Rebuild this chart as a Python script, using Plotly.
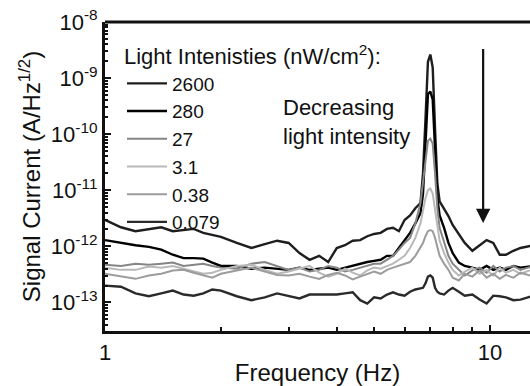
import numpy as np
import plotly.graph_objects as go

# Frequency grid (Hz)
FREQ_HZ = [1.0, 1.1, 1.2, 1.3, 1.4, 1.5, 1.6, 1.7, 1.8, 1.9,
           2.0, 2.2, 2.4, 2.6, 2.8,
           3.0, 3.2, 3.4, 3.6, 3.8,
           4.0, 4.2, 4.4, 4.6, 4.8,
           5.0, 5.2, 5.4, 5.6, 5.8,
           6.0, 6.2, 6.4, 6.6, 6.7, 6.8, 6.9,
           7.0, 7.1, 7.2, 7.3, 7.4, 7.6, 7.8,
           8.0, 8.3, 8.6,
           9.0, 9.4, 9.8,
           10.2, 10.6, 11.0, 11.5, 12.0, 13.0]

# Signal current, log10(A/Hz^1/2), one list per light intensity (nW/cm^2)
LOG_2600 = [-11.53, -11.66, -11.73, -11.69, -11.66, -11.73, -11.71, -11.69, -11.76, -11.80,
            -11.83, -11.94, -12.03, -11.96, -11.90,
            -11.94, -12.12, -12.24, -12.17, -12.28,
            -12.03, -11.98, -11.90, -11.89, -11.82,
            -11.78, -11.76, -11.69, -11.67, -11.73,
            -11.53, -11.45, -11.32, -11.23, -10.70, -9.73, -8.71,
            -8.58, -8.81, -9.91, -10.88, -11.20, -11.32, -11.46,
            -11.62, -11.78, -11.94,
            -12.08, -11.99, -11.89,
            -11.94, -12.15, -12.15, -12.08, -12.03, -11.98]

LOG_280 = [-11.89, -11.94, -11.98, -12.01, -12.06, -12.15, -12.21, -12.21, -12.22, -12.29,
           -12.35, -12.35, -12.40, -12.38, -12.40,
           -12.42, -12.38, -12.42, -12.40, -12.38,
           -12.42, -12.38, -12.35, -12.31, -12.28,
           -12.26, -12.24, -12.17, -12.17, -12.03,
           -11.90, -11.76, -11.59, -11.41, -11.06, -10.08, -9.29,
           -9.24, -9.38, -10.26, -11.14, -11.45, -11.67, -11.94,
           -12.12, -12.29, -12.35,
           -12.38, -12.42, -12.35,
           -12.42, -12.38, -12.42, -12.35, -12.38, -12.35]

LOG_27 = [-12.33, -12.35, -12.31, -12.33, -12.31, -12.29, -12.35, -12.33, -12.31, -12.35,
          -12.38, -12.40, -12.31, -12.28, -12.35,
          -12.42, -12.38, -12.45, -12.42, -12.35,
          -12.38, -12.45, -12.42, -12.38, -12.35,
          -12.31, -12.31, -12.24, -12.17, -12.06,
          -11.94, -11.85, -11.59, -11.23, -10.88, -10.44, -10.12,
          -10.08, -10.17, -10.70, -11.32, -11.67, -11.94, -12.17,
          -12.31, -12.42, -12.52,
          -12.43, -12.38, -12.47,
          -12.35, -12.45, -12.38, -12.35, -12.42, -12.35]

LOG_3_1 = [-12.38, -12.42, -12.42, -12.36, -12.38, -12.35, -12.40, -12.45, -12.49, -12.47,
           -12.42, -12.35, -12.33, -12.42, -12.49,
           -12.45, -12.40, -12.35, -12.47, -12.54,
           -12.49, -12.40, -12.47, -12.52, -12.43,
           -12.38, -12.40, -12.35, -12.31, -12.24,
           -12.17, -12.03, -11.85, -11.59, -11.36, -11.14, -11.00,
           -10.97, -11.06, -11.32, -11.64, -11.90, -12.12, -12.29,
           -12.42, -12.52, -12.45,
           -12.38, -12.49, -12.42,
           -12.52, -12.38, -12.47, -12.42, -12.49, -12.40]

LOG_0_38 = [-12.49, -12.54, -12.58, -12.52, -12.49, -12.43, -12.42, -12.47, -12.52, -12.56,
            -12.49, -12.43, -12.38, -12.45, -12.51,
            -12.52, -12.49, -12.54, -12.58, -12.51,
            -12.47, -12.52, -12.59, -12.54, -12.49,
            -12.45, -12.49, -12.42, -12.38, -12.35,
            -12.31, -12.28, -12.17, -12.03, -11.94, -11.82, -11.73,
            -11.71, -11.73, -11.85, -12.03, -12.17, -12.31, -12.42,
            -12.56, -12.61, -12.49,
            -12.54, -12.43, -12.56,
            -12.49, -12.58, -12.51, -12.56, -12.47, -12.54]

LOG_0_079 = [-12.70, -12.72, -12.84, -12.89, -12.84, -12.79, -12.86, -12.88, -12.84, -12.77,
             -12.79, -12.89, -12.96, -12.91, -12.84,
             -12.89, -12.93, -12.86, -12.86, -12.86,
             -12.86, -12.84, -12.82, -12.96, -13.02,
             -12.91, -12.93, -12.86, -12.82, -12.86,
             -12.88, -12.81, -12.77, -12.75, -12.74, -12.66, -12.54,
             -12.52, -12.56, -12.74, -12.81, -12.84, -12.86, -12.79,
             -12.74, -12.81, -12.88,
             -12.86, -12.95, -13.02,
             -12.88, -12.89, -12.91, -12.96, -12.95, -12.88]

SERIES_NAMES = ["2600", "280", "27", "3.1", "0.38", "0.079"]
SERIES_LOGS = [LOG_2600, LOG_280, LOG_27, LOG_3_1, LOG_0_38, LOG_0_079]
SERIES_COLORS = ["#1e1e1e", "#000000", "#858585", "#b8b8b8", "#9c9c9c", "#2a2a2a"]
SERIES_WIDTHS = [2.4, 2.4, 2.0, 2.0, 2.0, 2.4]

Y_TICK_EXPONENTS = [-13, -12, -11, -10, -9, -8]
X_TICK_VALUES = [1, 10]
ARROW_FREQ = 9.6
ARROW_TOP = 3.5e-9
ARROW_BOTTOM = 2.6e-12

FONT = "Liberation Sans, Arial, sans-serif"

fig = go.Figure()
for name, logs, color, w in zip(SERIES_NAMES, SERIES_LOGS, SERIES_COLORS, SERIES_WIDTHS):
    fig.add_trace(go.Scatter(
        x=FREQ_HZ, y=np.power(10.0, np.array(logs)), mode="lines", name=name,
        line=dict(color=color, width=w),
    ))

minor_x = [2, 3, 4, 5, 6, 7, 8, 9, 20]
minor_y = [m * 10.0 ** e for e in range(-14, -8) for m in range(2, 10)]

fig.update_layout(
    width=530, height=386,
    margin=dict(l=105, r=0, t=22, b=52),
    paper_bgcolor="white", plot_bgcolor="white",
    font=dict(family=FONT, size=21, color="#111111"),
    showlegend=True,
    legend=dict(
        x=0.04, y=0.955, xanchor="left", yanchor="top",
        bgcolor="rgba(0,0,0,0)", borderwidth=0,
        font=dict(size=19, family=FONT, color="#111111"),
        title=dict(text="Light Intenisties (nW/cm<sup>2</sup>):", font=dict(size=22, family=FONT)),
        itemwidth=40, tracegroupgap=0,
    ),
    xaxis=dict(
        type="log", range=[0, 1.104],
        tickvals=X_TICK_VALUES, ticktext=[str(v) for v in X_TICK_VALUES],
        ticks="inside", ticklen=6, tickwidth=2, tickcolor="#111",
        minor=dict(tickvals=minor_x, ticks="inside", ticklen=4, tickwidth=1.5, tickcolor="#111"),
        showline=True, linecolor="#111", linewidth=3, mirror=False,
        showgrid=False, zeroline=False,
        tickfont=dict(size=22, family=FONT),
        title=dict(text="Frequency (Hz)", font=dict(size=24, family=FONT), standoff=4),
    ),
    yaxis=dict(
        type="log", range=[-13.51, -8.0],
        tickvals=[10.0 ** e for e in Y_TICK_EXPONENTS],
        ticktext=["10<sup>%d</sup>" % e for e in Y_TICK_EXPONENTS],
        ticks="inside", ticklen=6, tickwidth=2, tickcolor="#111",
        minor=dict(tickvals=minor_y, ticks="inside", ticklen=3, tickwidth=1.5, tickcolor="#111"),
        showline=True, linecolor="#111", linewidth=3, mirror=False,
        showgrid=False, zeroline=False,
        tickfont=dict(size=22, family=FONT),
        title=dict(text="Signal Current (A/Hz<sup>1/2</sup>)", font=dict(size=24, family=FONT), standoff=4),
    ),
)

# top frame line
fig.add_shape(type="line", xref="paper", yref="paper", x0=0, x1=1, y0=1, y1=1,
              line=dict(color="#111", width=3))

fig.add_annotation(
    xref="paper", yref="paper", x=0.413, y=0.675, xanchor="left", yanchor="middle",
    text="Decreasing<br>light intensity", showarrow=False, align="left",
    font=dict(size=22, family=FONT, color="#111"),
)

fig.add_annotation(
    xref="x", yref="y", axref="x", ayref="y",
    x=np.log10(ARROW_FREQ), y=np.log10(ARROW_BOTTOM),
    ax=np.log10(ARROW_FREQ), ay=np.log10(ARROW_TOP),
    text="", showarrow=True, arrowhead=2, arrowsize=1.3, arrowwidth=2.2, arrowcolor="#111",
)

fig.write_html("out.html")
